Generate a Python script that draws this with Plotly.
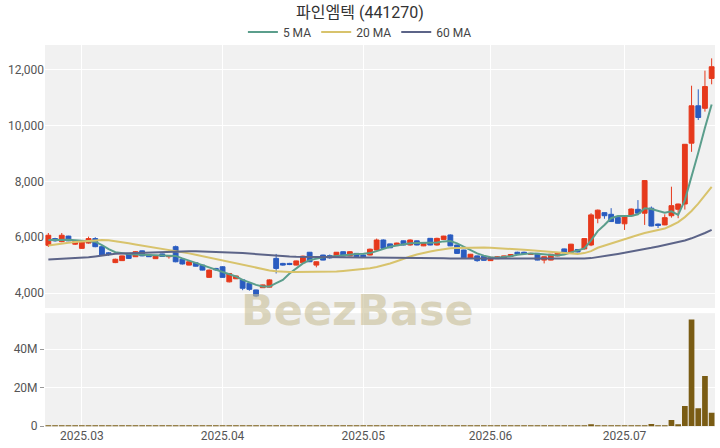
import plotly.graph_objects as go
from plotly.subplots import make_subplots

# ---- categories (trading days) ----
feb_days = [24, 25, 26, 27, 28]
mar_days = [3, 4, 5, 6, 7, 10, 11, 12, 13, 14, 17, 18, 19, 20, 21, 24, 25, 26, 27, 28, 31]
apr_days = [1, 2, 3, 4, 7, 8, 9, 10, 11, 14, 15, 16, 17, 18, 21, 22, 23, 24, 25, 28, 29]
may_days = [2, 7, 8, 9, 12, 13, 14, 15, 16, 19, 20, 21, 22, 23, 26, 27, 28, 29, 30]
jun_days = [2, 4, 5, 6, 9, 10, 11, 12, 13, 16, 17, 18, 19, 20, 23, 24, 25, 26, 27, 30]
jul_days = [1, 2, 3, 4, 7, 8, 9, 10, 11, 14, 15, 16, 17, 18]

dates = ([f"2025-02-{d:02d}" for d in feb_days] + [f"2025-03-{d:02d}" for d in mar_days]
         + [f"2025-04-{d:02d}" for d in apr_days] + [f"2025-05-{d:02d}" for d in may_days]
         + [f"2025-06-{d:02d}" for d in jun_days] + [f"2025-07-{d:02d}" for d in jul_days])

tick_dates = ["2025-03-03", "2025-04-01", "2025-05-02", "2025-06-02", "2025-07-01"]
tick_text = ["2025.03", "2025.04", "2025.05", "2025.06", "2025.07"]

# ---- OHLC ----
open_ = [5710, 5950, 5840, 6040, 5750, 5600, 5790, 5950, 5660, 5440,
         5090, 5160, 5420, 5300, 5510, 5360, 5230, 5400, 5300, 5660,
         5210, 5000, 5080, 5000, 4560, 4880, 4940, 4400, 4510, 4470,
         4350, 4110, 4190, 4210, 5240, 5060, 5060, 5000, 5080, 5460,
         5000, 5360, 5340, 5310, 5480, 5330, 5420, 5360, 5360, 5540,
         5900, 5760, 5700, 5870, 5720, 5870, 5690, 5960, 5720, 5920,
         6080, 5720, 5540, 5240, 5330, 5320, 5160, 5230, 5260, 5310,
         5460, 5460, 5380, 5420, 5180, 5180, 5330, 5580, 5460, 5560,
         5580, 5720, 6680, 6880, 6820, 6710, 6480, 6770, 7000, 6860,
         7040, 6470, 6440, 6770, 7000, 7190, 9370, 10710, 10620, 11690]
high = [6150, 5980, 6150, 6050, 5880, 5860, 6020, 6000, 5680, 5470,
        5230, 5340, 5430, 5500, 5520, 5380, 5340, 5410, 5350, 5700,
        5250, 5130, 5090, 5010, 4840, 4900, 4960, 4710, 4620, 4480,
        4360, 4120, 4300, 4490, 5400, 5080, 5080, 5160, 5340, 5470,
        5130, 5370, 5380, 5470, 5490, 5500, 5430, 5380, 5590, 5950,
        5920, 5770, 5800, 5880, 5920, 5880, 5810, 5970, 5980, 6050,
        6100, 5730, 5550, 5400, 5340, 5330, 5290, 5320, 5340, 5390,
        5480, 5480, 5440, 5430, 5310, 5400, 5450, 5590, 5760, 5570,
        5960, 6860, 6990, 6890, 7040, 6720, 6780, 7030, 7330, 8040,
        7100, 6490, 6820, 7810, 7200, 9340, 11430, 11300, 11970, 12410]
low = [5650, 5840, 5820, 5860, 5720, 5580, 5770, 5640, 5330, 5330,
       5070, 5150, 5230, 5290, 5320, 5290, 5220, 5300, 5230, 5100,
       5020, 4990, 4950, 4810, 4540, 4800, 4550, 4380, 4500, 4100,
       4080, 3850, 4180, 4200, 4700, 4980, 5000, 4990, 5060, 5110,
       4920, 5170, 5230, 5300, 5320, 5320, 5300, 5270, 5350, 5530,
       5590, 5610, 5690, 5710, 5700, 5710, 5680, 5710, 5700, 5900,
       5680, 5400, 5250, 5230, 5120, 5160, 5150, 5220, 5250, 5300,
       5390, 5400, 5370, 5170, 5060, 5170, 5320, 5430, 5440, 5460,
       5560, 5680, 6500, 6660, 6550, 6490, 6260, 6760, 6850, 6440,
       6390, 6330, 6430, 6700, 6680, 6990, 9060, 10200, 10500, 11480]
close = [6070, 5870, 6070, 5870, 5850, 5840, 5950, 5660, 5360, 5400,
         5210, 5330, 5240, 5480, 5330, 5300, 5330, 5310, 5330, 5120,
         5040, 5120, 4960, 4820, 4820, 4830, 4560, 4700, 4610, 4170,
         4130, 3890, 4290, 4470, 4880, 5000, 5020, 5150, 5320, 5120,
         5120, 5180, 5260, 5460, 5330, 5480, 5310, 5300, 5570, 5900,
         5600, 5620, 5790, 5720, 5900, 5720, 5800, 5720, 5960, 6040,
         5690, 5420, 5260, 5390, 5160, 5170, 5280, 5300, 5330, 5380,
         5400, 5410, 5420, 5180, 5300, 5390, 5440, 5440, 5750, 5470,
         5950, 6800, 6970, 6770, 6560, 6500, 6770, 7010, 6860, 8030,
         6400, 6420, 6700, 7130, 7190, 9330, 10710, 10290, 11400, 12110]

# ---- moving averages ----
ma5 = [5900, 5910, 5920, 5910, 5890, 5870, 5860, 5840, 5720, 5570,
       5460, 5420, 5400, 5380, 5370, 5360, 5350, 5340, 5340, 5330,
       5240, 5150, 5080, 5000, 4920, 4850, 4770, 4690, 4590, 4470,
       4370, 4290, 4230, 4230, 4350, 4470, 4700, 4890, 5060, 5180,
       5230, 5280, 5300, 5330, 5360, 5390, 5400, 5410, 5430, 5500,
       5580, 5660, 5700, 5740, 5780, 5790, 5790, 5800, 5810, 5850,
       5860, 5780, 5650, 5540, 5420, 5340, 5280, 5260, 5280, 5320,
       5370, 5400, 5420, 5410, 5380, 5350, 5340, 5380, 5450, 5520,
       5600, 5890, 6220, 6440, 6680, 6760, 6750, 6760, 6820, 7040,
       7010, 6940, 6880, 6930, 6800, 7330, 8230, 9030, 9920, 10760]
ma20 = [5700, 5740, 5770, 5800, 5830, 5850, 5870, 5890, 5900, 5890,
        5860, 5820, 5780, 5740, 5700, 5670, 5640, 5600, 5560, 5510,
        5470, 5420, 5370, 5320, 5270, 5220, 5170, 5110, 5050, 5000,
        4950, 4900, 4850, 4810, 4780, 4760, 4750, 4750, 4750, 4750,
        4750, 4750, 4760, 4770, 4790, 4810, 4830, 4860, 4890, 4930,
        4990, 5060, 5140, 5230, 5310, 5380, 5440, 5490, 5530, 5570,
        5600, 5610, 5620, 5630, 5630, 5630, 5620, 5610, 5600, 5590,
        5570, 5550, 5530, 5510, 5490, 5470, 5450, 5430, 5410, 5400,
        5430, 5500, 5620, 5700, 5780, 5860, 5940, 6010, 6080, 6150,
        6200, 6250, 6310, 6420, 6540, 6720, 6940, 7200, 7480, 7800]
ma60 = [5200, 5210, 5220, 5230, 5245, 5260, 5280, 5310, 5350, 5390,
        5410, 5420, 5430, 5435, 5440, 5450, 5460, 5470, 5480, 5490,
        5495, 5500, 5495, 5490, 5480, 5470, 5460, 5450, 5440, 5430,
        5410, 5390, 5370, 5350, 5330, 5320, 5310, 5300, 5300, 5300,
        5300, 5295, 5290, 5290, 5285, 5280, 5280, 5275, 5270, 5270,
        5270, 5265, 5260, 5260, 5260, 5255, 5250, 5250, 5250, 5245,
        5240, 5240, 5235, 5230, 5230, 5225, 5220, 5220, 5220, 5220,
        5215, 5215, 5215, 5215, 5215, 5215, 5220, 5220, 5225, 5230,
        5240, 5250, 5280, 5320, 5360, 5400, 5440, 5490, 5530, 5570,
        5620, 5670, 5720, 5770, 5820, 5880, 5960, 6050, 6150, 6260]

# ---- volume ----
volume = [40000, 30000, 35000, 25000, 20000, 30000, 25000, 30000, 45000, 30000,
          25000, 20000, 20000, 30000, 20000, 20000, 20000, 15000, 20000, 50000,
          30000, 20000, 20000, 25000, 35000, 20000, 40000, 45000, 20000, 50000,
          40000, 60000, 30000, 45000, 450000, 40000, 25000, 30000, 35000, 30000,
          25000, 20000, 20000, 25000, 20000, 25000, 20000, 20000, 40000, 200000,
          60000, 30000, 20000, 25000, 30000, 20000, 20000, 30000, 35000, 30000,
          50000, 40000, 30000, 20000, 25000, 20000, 20000, 15000, 20000, 20000,
          20000, 20000, 15000, 30000, 25000, 20000, 20000, 30000, 50000, 30000,
          100000, 900000, 400000, 150000, 120000, 100000, 120000, 150000, 150000, 300000,
          1000000, 150000, 300000, 3100000, 900000, 10400000, 55400000, 9200000, 26000000, 6900000]

C_UP = "#e6391c"
C_DOWN = "#2a5cc0"

fig = make_subplots(rows=2, cols=1, shared_xaxes=True)

fig.add_trace(go.Candlestick(
    x=dates, open=open_, high=high, low=low, close=close,
    increasing=dict(line=dict(color=C_UP, width=1), fillcolor=C_UP),
    decreasing=dict(line=dict(color=C_DOWN, width=1), fillcolor=C_DOWN),
    whiskerwidth=0, showlegend=False, name="가격"), row=1, col=1)

fig.add_trace(go.Scatter(x=dates, y=ma5, mode="lines", name="5 MA",
                         line=dict(color="#5b9e8c", width=2)), row=1, col=1)
fig.add_trace(go.Scatter(x=dates, y=ma20, mode="lines", name="20 MA",
                         line=dict(color="#d8c36c", width=2)), row=1, col=1)
fig.add_trace(go.Scatter(x=dates, y=ma60, mode="lines", name="60 MA",
                         line=dict(color="#5c6488", width=2)), row=1, col=1)

fig.add_trace(go.Bar(x=dates, y=volume, marker=dict(color="#7a5c14", line=dict(width=0)),
                     showlegend=False, name="거래량"), row=2, col=1)

FONT = "Roboto, 'Noto Sans CJK KR', sans-serif"
fig.update_layout(
    width=720, height=448,
    margin=dict(l=45, r=5, t=45, b=21),
    paper_bgcolor="white", plot_bgcolor="#f1f1f1",
    font=dict(family=FONT, size=12, color="#555"),
    title=dict(text="파인엠텍 (441270)", x=0.5, xanchor="center", y=0.973, yanchor="middle",
               font=dict(size=16, color="#333")),
    legend=dict(orientation="h", x=0.47, xanchor="center", y=1.034, yanchor="middle",
                font=dict(size=12, color="#444"), bgcolor="rgba(0,0,0,0)",
                itemwidth=30, tracegroupgap=0),
    bargap=0.15,
    boxgap=0.28,
    boxgroupgap=0.0,
    annotations=[dict(text="<b>BeezBase</b>", xref="paper", yref="paper", x=0.467, y=0.306,
                      xanchor="center", yanchor="middle",
                      showarrow=False, font=dict(size=43, color="rgba(200,190,150,0.6)",
                                                 family="'DejaVu Sans', sans-serif"))],
)

for r in (1, 2):
    fig.update_xaxes(type="category", categoryorder="array", categoryarray=dates,
                     range=[-0.5, len(dates) - 0.5], tickvals=tick_dates, ticktext=tick_text,
                     showgrid=True, gridcolor="white", gridwidth=1,
                     rangeslider=dict(visible=False), showline=False, zeroline=False,
                     ticks="", row=r, col=1)
fig.update_xaxes(showticklabels=False, row=1, col=1)
fig.update_xaxes(showticklabels=True, tickfont=dict(size=12, color="#555"), row=2, col=1)

fig.update_yaxes(domain=[0.3115, 1.0], range=[3462, 12889], tickvals=[4000, 6000, 8000, 10000, 12000],
                 tickformat=",", showgrid=True, gridcolor="white", zeroline=False,
                 ticks="", row=1, col=1)
fig.update_yaxes(domain=[0.0, 0.298], range=[-0.5e6, 58.7e6], tickvals=[0, 20e6, 40e6],
                 ticktext=["0", "20M", "40M"], showgrid=True, gridcolor="white", zeroline=False,
                 ticks="outside", ticklen=4, tickcolor="#999", row=2, col=1)

fig.write_html("out.html", config={"displayModeBar": False},
               post_script="document.body.style.margin='0';")
